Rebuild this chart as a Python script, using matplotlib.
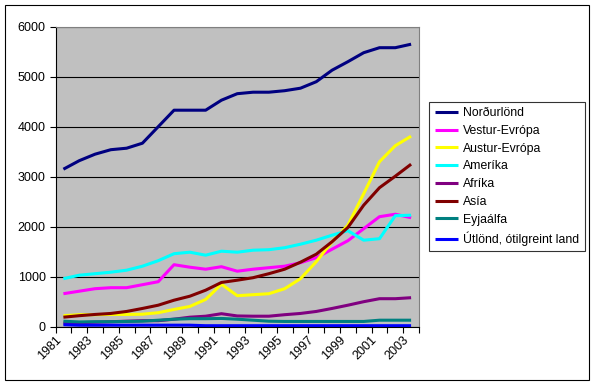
import numpy as np
import matplotlib.pyplot as plt
from matplotlib.patches import Rectangle

plt.rcParams['font.family'] = ['Liberation Sans', 'DejaVu Sans']

years = list(range(1981, 2004))

nordurlond = [3150, 3320, 3450, 3540, 3570, 3670, 4000, 4330, 4330, 4330, 4530, 4660,
              4690, 4690, 4720, 4770, 4900, 5130, 5300, 5480, 5580, 5580, 5650]
vestur_evropa = [660, 710, 760, 780, 780, 840, 900, 1240, 1190, 1150, 1200, 1110,
                 1150, 1180, 1210, 1280, 1380, 1550, 1720, 1960, 2200, 2250, 2180]
austur_evropa = [220, 240, 240, 245, 245, 250, 280, 345, 405, 545, 850, 620,
                 640, 660, 760, 960, 1300, 1700, 2030, 2660, 3300, 3620, 3810]
amerika = [960, 1030, 1060, 1090, 1130, 1210, 1320, 1460, 1490, 1430, 1510, 1490,
           1530, 1540, 1580, 1650, 1730, 1830, 1920, 1730, 1760, 2220, 2230]
afrika = [70, 80, 90, 100, 110, 120, 120, 150, 190, 210, 260, 215,
          210, 210, 240, 265, 305, 365, 430, 500, 560, 560, 580]
asia = [190, 220, 245, 265, 305, 365, 430, 530, 610, 730, 885, 930,
        980, 1060, 1150, 1290, 1450, 1700, 1985, 2430, 2780, 3010, 3250]
eyjaalfa = [110, 95, 100, 100, 105, 110, 130, 150, 160, 160, 165, 150,
            130, 110, 105, 105, 105, 105, 105, 105, 130, 130, 130]
utlond = [40, 30, 30, 30, 30, 30, 30, 30, 30, 20, 20, 20,
          20, 20, 20, 20, 20, 20, 20, 20, 20, 20, 20]

labels = ['Norðurlönd', 'Vestur-Evrópa', 'Austur-Evrópa', 'Ameríka',
          'Afríka', 'Asía', 'Eyjaálfa', 'Útlönd, ótilgreint land']
values = [nordurlond, vestur_evropa, austur_evropa, amerika,
          afrika, asia, eyjaalfa, utlond]
colors = ['#000080', '#FF00FF', '#FFFF00', '#00FFFF',
          '#800080', '#800000', '#008080', '#0000FF']

W, H = 593, 386
fig = plt.figure(figsize=(W / 100, H / 100), dpi=100)
fig.patch.set_facecolor('white')
fig.patches.append(Rectangle((5 / W, 1 - 380 / H), 583.5 / W, 375 / H,
                             transform=fig.transFigure, fill=False,
                             edgecolor='black', linewidth=0.8))

ax = fig.add_axes([55.5 / W, 1 - 326.7 / H, 363.5 / W, 300 / H])
ax.set_facecolor('#C0C0C0')

x = np.arange(len(years))
for lab, vals, color in zip(labels, values, colors):
    ax.plot(x, vals, color=color, linewidth=2.2, label=lab,
            solid_capstyle='butt')

ax.set_xlim(-0.5, len(years) - 0.5)
ax.set_ylim(0, 6000)
ax.set_yticks(range(0, 6001, 1000))
ax.grid(axis='y', color='black', linewidth=0.8)
ax.set_axisbelow(True)

ax.set_xticks(x[::2])
ax.set_xticklabels([str(y) for y in years[::2]], rotation=45, ha='right',
                   va='top', fontsize=9)
ax.set_xticks(np.arange(-0.5, len(years)), minor=True)
ax.tick_params(axis='x', which='major', length=0, pad=5)
ax.tick_params(axis='x', which='minor', length=4, direction='out', width=0.8)
ax.tick_params(axis='y', length=4, width=0.8, labelsize=9, pad=3)

for side in ['top', 'right']:
    ax.spines[side].set_color('#808080')
for side in ['left', 'bottom']:
    ax.spines[side].set_color('black')
for sp in ax.spines.values():
    sp.set_linewidth(0.8)

leg = fig.legend(loc='upper left', bbox_to_anchor=(429.3 / W, 1 - 101.7 / H),
                 fontsize=8.8, frameon=True, fancybox=False, shadow=False,
                 handlelength=1.9, handletextpad=0.4, labelspacing=0.47,
                 borderpad=0.45, borderaxespad=0)
leg.get_frame().set_edgecolor('black')
leg.get_frame().set_linewidth(0.8)

fig.savefig('out.png', dpi=100)
